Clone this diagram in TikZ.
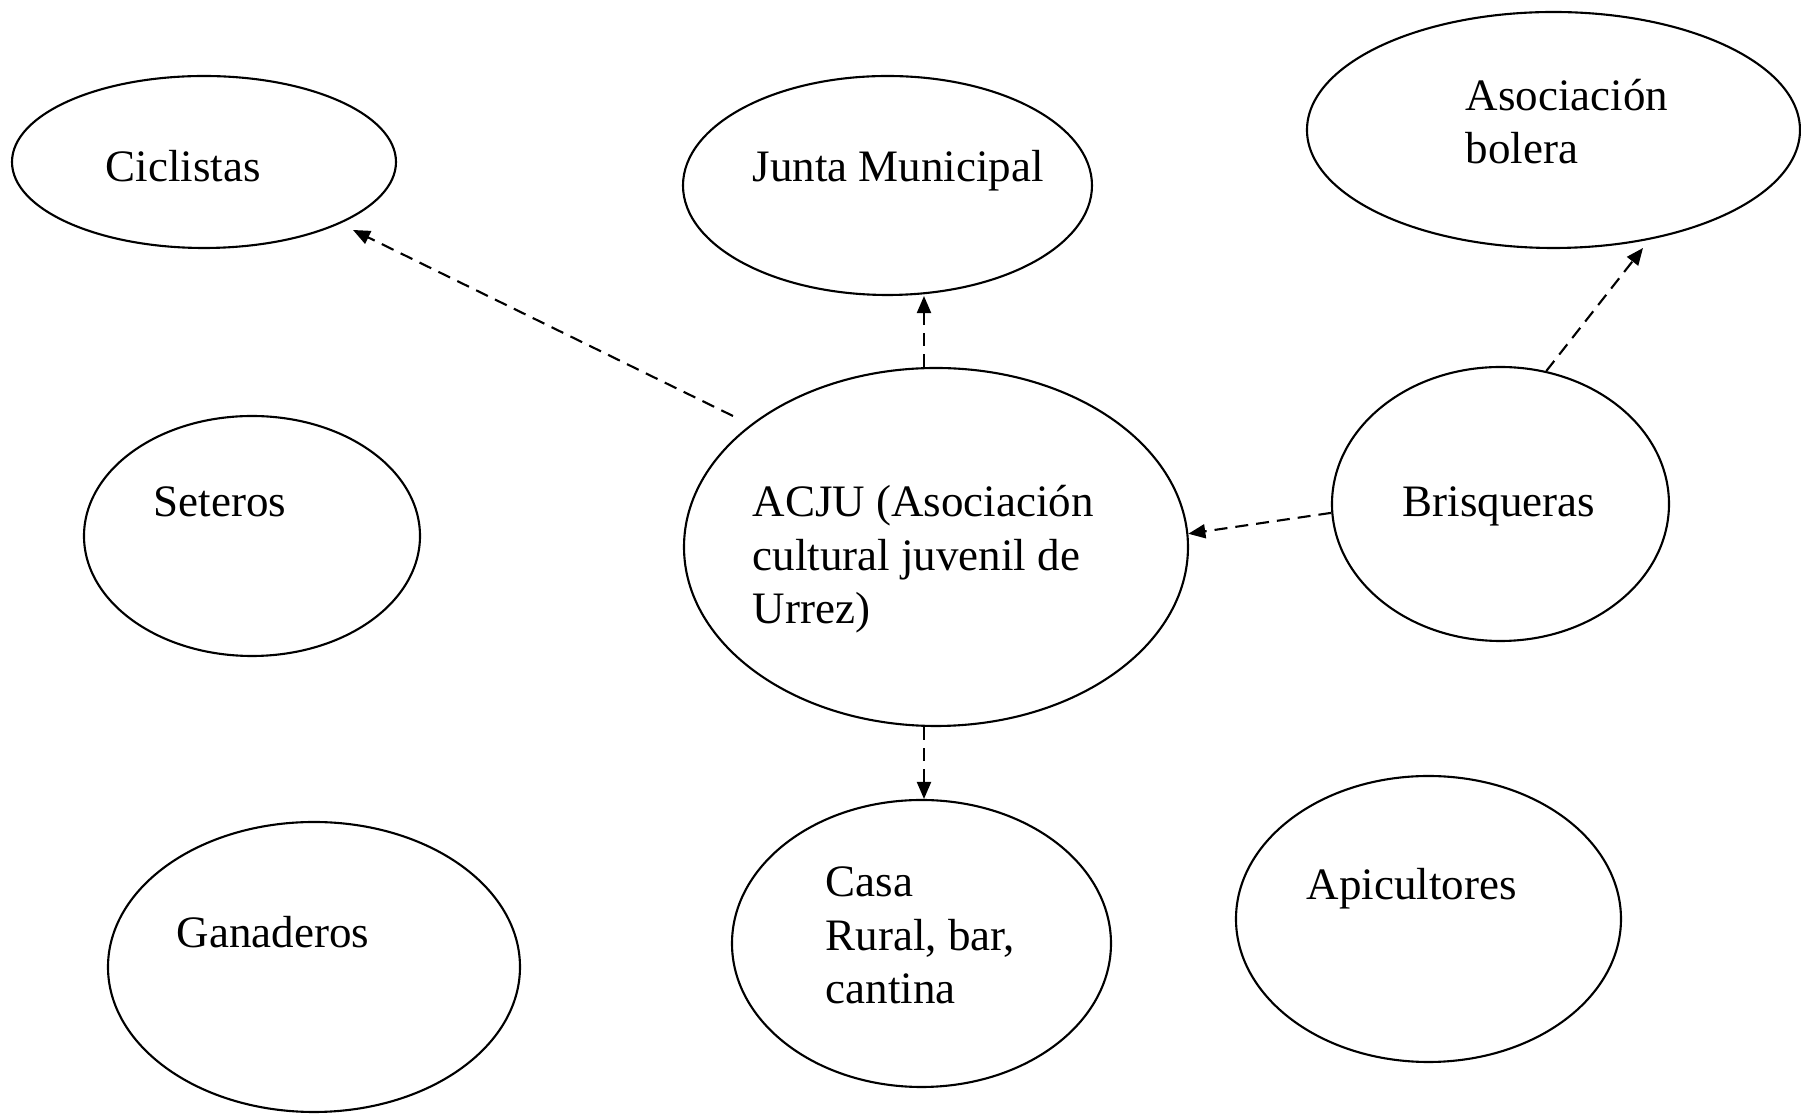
\documentclass[tikz,border=0pt]{standalone}
\usepackage{fontspec}
\setmainfont{Liberation Serif}
\usetikzlibrary{shapes.geometric, arrows.meta}

\begin{document}
\begin{tikzpicture}[
  x=0.1mm, y=-0.1mm,
  >={Triangle[length=1.7mm, width=1.4mm]},
  blob/.style={draw, ellipse, semithick, inner sep=0pt},
  lab/.style={anchor=base west, align=left, inner sep=0pt,
              font=\fontsize{12.8pt}{15.3pt}\selectfont},
  link/.style={->, semithick, dash pattern=on 1.3mm off 0.8mm}
]
  \useasboundingbox (0,0) rectangle (1801,1114);

  % groups
  \node[blob, minimum width=38.4mm, minimum height=17.2mm] (cicl)  at (204,162)    {};
  \node[blob, minimum width=40.9mm, minimum height=21.9mm] (junta) at (887.5,185.5) {};
  \node[blob, minimum width=49.3mm, minimum height=23.6mm] (bolera) at (1553.5,130) {};
  \node[blob, minimum width=33.6mm, minimum height=24mm]   (set)   at (252,536)    {};
  \node[blob, minimum width=50.4mm, minimum height=35.8mm] (acju)  at (936,547)    {};
  \node[blob, minimum width=33.7mm, minimum height=27.4mm] (bris)  at (1500.5,504) {};
  \node[blob, minimum width=41.2mm, minimum height=29mm]   (gan)   at (314,967)    {};
  \node[blob, minimum width=37.9mm, minimum height=28.7mm] (casa)  at (921.5,943.5) {};
  \node[blob, minimum width=38.5mm, minimum height=28.6mm] (api)   at (1428.5,919) {};

  % names (base = last line)
  \node[lab] (cicl-t)   at (105,182)  {Ciclistas};
  \node[lab] (junta-t)  at (752,182)  {Junta Municipal};
  \node[lab] (bolera-t) at (1465,164) {Asociación\\bolera};
  \node[lab] (set-t)    at (153,517)  {Seteros};
  \node[lab] (acju-t)   at (752,624)  {ACJU (Asociación\\cultural juvenil de\\Urrez)};
  \node[lab] (bris-t)   at (1402,517) {Brisqueras};
  \node[lab] (gan-t)    at (176,948)  {Ganaderos};
  \node[lab] (casa-t)   at (825,1004) {Casa\\Rural, bar,\\cantina};
  \node[lab] (api-t)    at (1306,900) {Apicultores};

  % relations
  \draw[link] ([shift={(-203,-131)}]acju.center) -- ([shift={(149,68)}]cicl.center);
  \draw[link] ([xshift=-1.2mm]acju.north) -- ([xshift=-1.2mm]acju.north |- junta.south);
  \draw[link] ([xshift=-1.2mm]acju.south) -- ([xshift=-1.2mm]acju.south |- casa.north);
  \draw[link] (bris.183) -- (acju.3);
  \draw[link] (bris.71) -- ([shift={(89.5,118)}]bolera.center);
\end{tikzpicture}
\end{document}
